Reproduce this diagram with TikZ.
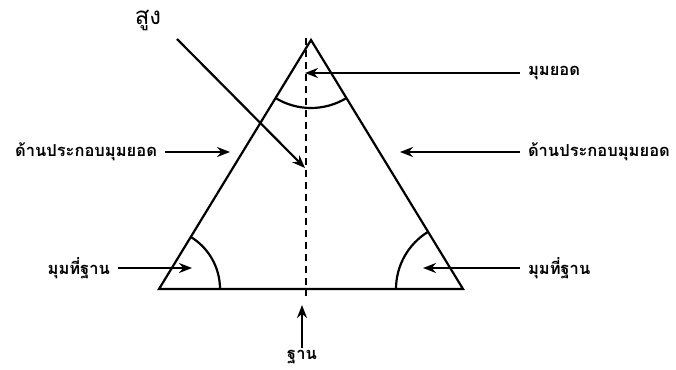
\documentclass[tikz,border=0pt]{standalone}
\usepackage{fontspec}
\newfontfamily\thaifont[Script=Thai]{Loma}
\usetikzlibrary{positioning,arrows.meta}

\begin{document}
\begin{tikzpicture}[x=1pt,y=1pt,>={Stealth[length=13pt,width=10pt]},line width=2.2pt,
    lbl/.style={inner sep=0pt, outer xsep=8pt, font=\thaifont\bfseries\fontsize{16.5}{19}\selectfont},
    tall/.style={inner sep=0pt, font=\thaifont\fontsize{24}{27}\selectfont}]
    \useasboundingbox (0,0) rectangle (676,-369);

    % triangle and its altitude
    \coordinate (apex) at (311,-40);
    \coordinate (baseL) at (159,-289);
    \coordinate (baseR) at (463,-289);
    \coordinate (altTop) at (306,-38);
    \coordinate (altBot) at (306,-296);
    \draw (apex) -- (baseL) -- (baseR) -- cycle;
    \draw[dash pattern=on 7pt off 5pt, line width=1.8pt] (altTop) -- (altBot);

    % angle marks
    \draw ([shift={(238.6:68)}]apex) arc[start angle=238.6, end angle=301.4, radius=68];
    \draw ([shift={(0:61)}]baseL) arc[start angle=0, end angle=58.6, radius=61];
    \draw ([shift={(121.4:67)}]baseR) arc[start angle=121.4, end angle=180, radius=67];

    % arrow tips
    \coordinate (tallFrom) at (177,-39);
    \coordinate (tallTip) at (305,-168);
    \coordinate (apexTip) at (305,-73);
    \coordinate (sideRTip) at (400,-152);
    \coordinate (sideLTip) at (230,-152);
    \coordinate (baseRTip) at (423,-268);
    \coordinate (baseLTip) at (192,-268);
    \coordinate (baseTip) at (302,-305);

    % labels
    \node (tallLbl) [tall] at (148,-21) {สูง};
    \node (apexLbl) [lbl, anchor=west] at (520,-73) {มุมยอด};
    \node (sideRLbl) [lbl, anchor=west] at (520,-152) {ด้านประกอบมุมยอด};
    \node (sideLLbl) [lbl, anchor=east] at (165,-152) {ด้านประกอบมุมยอด};
    \node (baseRLbl) [lbl, anchor=west] at (520,-268) {มุมที่ฐาน};
    \node (baseLLbl) [lbl, anchor=east] at (118,-268) {มุมที่ฐาน};
    \node (baseLbl) [lbl, anchor=north] at (302,-349) {ฐาน};

    \draw[->] (tallFrom) -- (tallTip);
    \draw[->] (apexLbl.west) -- (apexLbl.west -| apexTip);
    \draw[->] (sideRLbl.west) -- (sideRLbl.west -| sideRTip);
    \draw[->] (sideLLbl.east) -- (sideLLbl.east -| sideLTip);
    \draw[->] (baseRLbl.west) -- (baseRLbl.west -| baseRTip);
    \draw[->] (baseLLbl.east) -- (baseLLbl.east -| baseLTip);
    \draw[->] (baseLbl.north) ++(0,1) -- (baseTip);
\end{tikzpicture}
\end{document}
